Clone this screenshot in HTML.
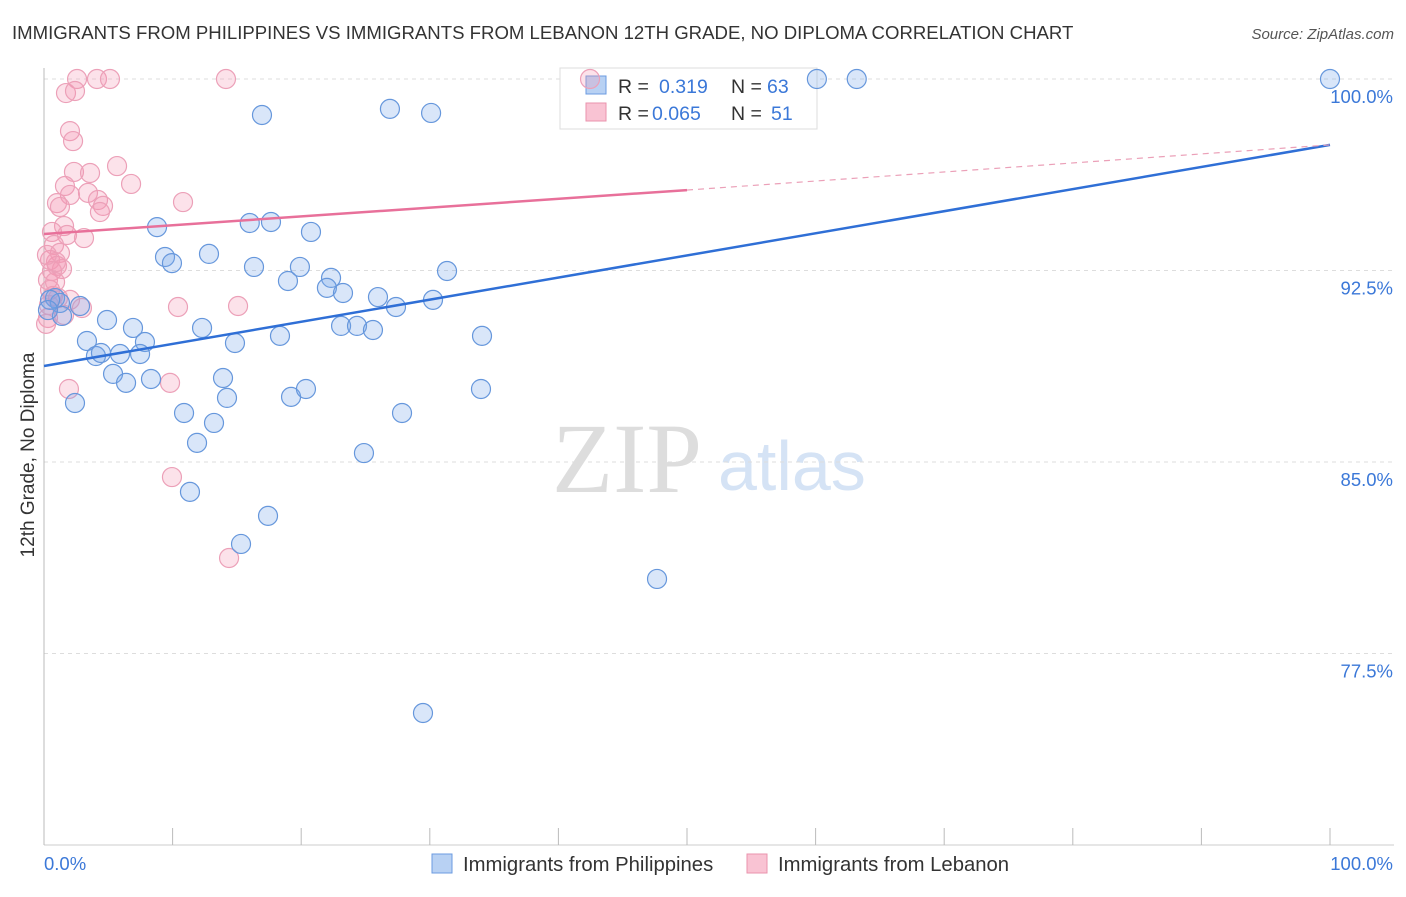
<!DOCTYPE html>
<html><head><meta charset="utf-8"><style>
body{margin:0;background:#fff;font-family:"Liberation Sans",sans-serif;}
svg text{font-family:"Liberation Sans",sans-serif;}
</style></head><body>
<svg id="c" width="1406" height="892" xmlns="http://www.w3.org/2000/svg">
<text x="12" y="39" font-size="18.6" fill="#333">IMMIGRANTS FROM PHILIPPINES VS IMMIGRANTS FROM LEBANON 12TH GRADE, NO DIPLOMA CORRELATION CHART</text>
<text x="1394" y="39" font-size="15" fill="#555" text-anchor="end" font-style="italic">Source: ZipAtlas.com</text>
<text x="552" y="492" font-size="100" fill="#ddd" font-family="Liberation Serif" style="font-family:'Liberation Serif',serif">ZIP</text>
<text x="718" y="490" font-size="70" fill="#d5e3f5">atlas</text>
<text transform="translate(34,455) rotate(-90)" font-size="19" fill="#333" text-anchor="middle">12th Grade, No Diploma</text>
<g id="grid"></g><g id="axes"></g>
<g>
<rect x="560" y="68" width="257" height="61" fill="#fff" stroke="#ddd"/>
<rect x="586" y="76" width="20" height="18" fill="#b8d1f3" stroke="#6b9be0"/>
<text x="618" y="93" font-size="19.5" fill="#333">R = </text><text x="659" y="93" font-size="19.5" fill="#3b78d8">0.319</text>
<text x="731" y="93" font-size="19.5" fill="#333">N = </text><text x="767" y="93" font-size="19.5" fill="#3b78d8">63</text>
<rect x="586" y="103" width="20" height="18" fill="#f9c3d3" stroke="#ea93ad"/>
<text x="618" y="120" font-size="19.5" fill="#333">R = </text><text x="652" y="120" font-size="19.5" fill="#3b78d8">0.065</text>
<text x="731" y="120" font-size="19.5" fill="#333">N = </text><text x="771" y="120" font-size="19.5" fill="#3b78d8">51</text>
</g>
<g id="pts"></g><g id="lines"></g>
<g>
<rect x="432" y="854" width="20" height="19" fill="#b8d1f3" stroke="#6b9be0"/>
<text x="463" y="871" font-size="20.3" fill="#333">Immigrants from Philippines</text>
<rect x="747" y="854" width="20" height="19" fill="#f9c3d3" stroke="#ea93ad"/>
<text x="778" y="871" font-size="20.3" fill="#333">Immigrants from Lebanon</text>
</g>
</svg>
<script>
const yTicks=[100,92.5,85,77.5];
const yTickLabels=["100.0%","92.5%","85.0%","77.5%"];
const blueX=[16.95,26.9,30.1,60.1,63.2,100,8.79,16.0,17.65,20.76,9.41,9.95,12.83,16.33,19.9,18.97,22.32,22.0,23.25,25.97,27.37,30.25,31.34,0.86,1.24,2.8,1.4,4.9,6.92,12.29,23.1,24.34,25.58,18.35,14.85,3.34,7.85,34.06,4.04,4.43,5.91,7.47,5.37,6.38,8.32,13.92,14.23,19.21,20.37,33.98,2.41,10.89,13.22,27.84,11.9,24.88,11.35,17.42,15.32,47.67,29.47,0.47,0.31];
const blueY=[98.59,98.83,98.67,100,100,100,94.2,94.36,94.4,94.01,93.03,92.79,93.15,92.64,92.64,92.09,92.21,91.82,91.62,91.46,91.07,91.35,92.48,91.42,91.23,91.11,90.72,90.56,90.25,90.25,90.33,90.33,90.17,89.94,89.66,89.74,89.7,89.94,89.15,89.27,89.23,89.23,88.45,88.1,88.25,88.29,87.51,87.55,87.86,87.86,87.31,86.92,86.53,86.92,85.75,85.35,83.83,82.89,81.79,80.42,75.17,91.35,90.95];
const pinkX=[2.57,4.12,5.13,14.15,1.71,2.41,2.02,2.26,5.68,2.33,3.58,6.77,1.63,3.42,2.02,1.01,1.24,4.2,4.59,4.35,10.81,1.56,0.62,1.79,3.11,0.78,1.24,0.47,1.01,1.4,0.62,0.31,0.47,0.7,2.02,2.95,10.42,15.09,0.31,0.16,1.94,9.8,9.95,14.39,42.46,0.93,1.09,0.39,1.56,0.23,0.86];
const pinkY=[100,100,100,100,99.45,99.53,97.96,97.57,96.59,96.36,96.32,95.89,95.81,95.54,95.46,95.14,94.99,95.26,95.03,94.79,95.18,94.24,94.01,93.89,93.77,93.5,93.19,92.91,92.68,92.56,92.48,92.13,91.74,91.5,91.35,91.03,91.07,91.11,90.64,90.41,87.86,88.1,84.41,81.24,100,92.83,91.42,91.15,90.76,93.11,92.05];
const blueTrend=[88.76,97.42];
const pinkTrend=[93.93,95.65,97.42];
const NS="http://www.w3.org/2000/svg";
const sx=v=>44+v*12.86, sy=v=>79+(100-v)*191.5/7.5;
function mk(t,a,p){const e=document.createElementNS(NS,t);for(const k in a)e.setAttribute(k,a[k]);document.getElementById(p).appendChild(e);return e;}
yTicks.forEach((t,i)=>{
 const g=mk('line',{x1:44,x2:1394,y1:sy(t),y2:sy(t),stroke:'#ddd','stroke-dasharray':'4,4'},'grid');
 
 
 const l=mk('text',{x:1393,y:sy(t)+24,'font-size':18.5,fill:'#3b78d8','text-anchor':'end'},'grid');
 l.textContent=yTickLabels[i];
 
 
});
const ax=mk('line',{x1:44,x2:44,y1:68,y2:845,stroke:'#bbb'},'axes');


const bx=mk('line',{x1:44,x2:1394,y1:845,y2:845,stroke:'#ccc'},'axes');


for(let i=0;i<=10;i++){const t=mk('line',{x1:sx(i*10),x2:sx(i*10),y1:828,y2:845,stroke:'#bbb'},'axes');
 
 }
const xl0=mk('text',{x:44,y:870,'font-size':18.5,fill:'#3b78d8'},'axes');xl0.textContent='0.0%';


const xl1=mk('text',{x:1393,y:870,'font-size':18.5,fill:'#3b78d8','text-anchor':'end'},'axes');xl1.textContent='100.0%';


pinkX.forEach((x,i)=>{const c=mk('circle',{cx:sx(x),cy:sy(pinkY[i]),r:9.5,fill:'rgba(244,150,180,0.28)',stroke:'#eca0b8','stroke-width':1.2},'pts');
 
 });
blueX.forEach((x,i)=>{const c=mk('circle',{cx:sx(x),cy:sy(blueY[i]),r:9.5,fill:'rgba(120,165,235,0.28)',stroke:'#6697dc','stroke-width':1.2},'pts');
 
 });
const bl=mk('line',{x1:sx(0),y1:sy(blueTrend[0]),x2:sx(100),y2:sy(blueTrend[1]),stroke:'#2f6fd6','stroke-width':2.5},'lines');


const pl=mk('line',{x1:sx(0),y1:sy(pinkTrend[0]),x2:sx(50),y2:sy(pinkTrend[1]),stroke:'#e8709a','stroke-width':2.5},'lines');


const pd=mk('line',{x1:sx(50),y1:sy(pinkTrend[1]),x2:sx(100),y2:sy(pinkTrend[2]),stroke:'#eba0b8','stroke-width':1.2,'stroke-dasharray':'6,5'},'lines');


</script>
</body></html>
